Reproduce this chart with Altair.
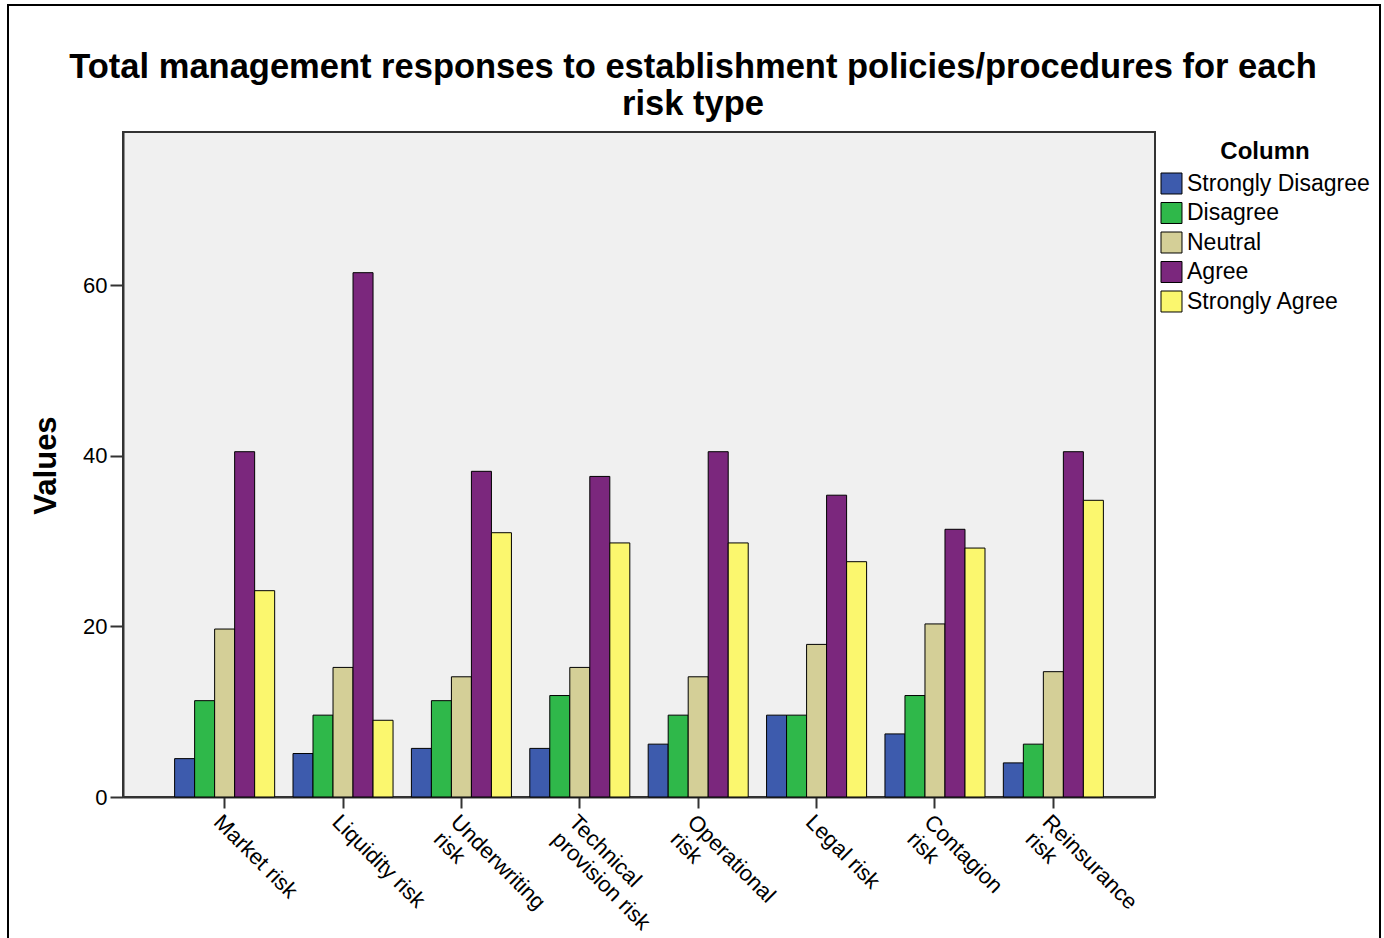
import altair as alt
import pandas as pd

categories = ["Market risk", "Liquidity risk", "Underwriting risk", "Technical provision risk",
              "Operational risk", "Legal risk", "Contagion risk", "Reinsurance risk"]
responses = ["Strongly Disagree", "Disagree", "Neutral", "Agree", "Strongly Agree"]

strongly_disagree = [4.5, 5.1, 5.7, 5.7, 6.2, 9.6, 7.4, 4.0]
disagree = [11.3, 9.6, 11.3, 11.9, 9.6, 9.6, 11.9, 6.2]
neutral = [19.7, 15.2, 14.1, 15.2, 14.1, 17.9, 20.3, 14.7]
agree = [40.5, 61.5, 38.2, 37.6, 40.5, 35.4, 31.4, 40.5]
strongly_agree = [24.2, 9.0, 31.0, 29.8, 29.8, 27.6, 29.2, 34.8]

colors = ["#3D5BAD", "#2FB84A", "#D4CF97", "#7B277D", "#FBF76E"]

label_lines = {
    "Underwriting risk": ["Underwriting", "risk"],
    "Technical provision risk": ["Technical", "provision risk"],
    "Operational risk": ["Operational", "risk"],
    "Contagion risk": ["Contagion", "risk"],
    "Reinsurance risk": ["Reinsurance", "risk"],
}

series = [strongly_disagree, disagree, neutral, agree, strongly_agree]
rows = []
for resp, vals in zip(responses, series):
    for cat, v in zip(categories, vals):
        rows.append({"Category": cat, "Response": resp, "Value": v})
df = pd.DataFrame(rows)

expr = "datum.value"
for k, lines in reversed(list(label_lines.items())):
    arr = "[" + ", ".join("'" + s + "'" for s in lines) + "]"
    expr = f"datum.value == '{k}' ? {arr} : ({expr})"

FONT = "Liberation Sans"

bars = alt.Chart(df).mark_bar(stroke="black", strokeWidth=1).encode(
    x=alt.X("Category:N", sort=categories, title=None,
            scale=alt.Scale(paddingInner=0.155, paddingOuter=0.436),
            axis=alt.Axis(labelAngle=45, labelAlign="left", labelBaseline="top",
                          labelExpr=expr, labelFontSize=22, labelLineHeight=24,
                          labelPadding=3, tickSize=11, labelLimit=400,
                          labelOverlap=False, labelFlush=False)),
    xOffset=alt.XOffset("Response:N", sort=responses,
                        scale=alt.Scale(paddingInner=0, paddingOuter=0)),
    y=alt.Y("Value:Q", title="Values",
            scale=alt.Scale(domain=[0, 78], nice=False, zero=True),
            axis=alt.Axis(values=[0, 20, 40, 60], grid=False, tickSize=13,
                          labelFontSize=22, labelPadding=3,
                          titleFontSize=31, titleFont=FONT, titleFontWeight="bold",
                          titleAngle=-90, titleX=-68, titleY=333,
                          titleAlign="center", titleBaseline="alphabetic")),
    color=alt.Color("Response:N", sort=responses,
                    scale=alt.Scale(domain=responses, range=colors),
                    legend=alt.Legend(orient="none", legendX=1037, legendY=8,
                                      title="Column", titleFont=FONT, titleFontSize=24,
                                      titleFontWeight="bold", titleAnchor="middle",
                                      titleColor="black", titlePadding=8,
                                      labelFont=FONT, labelFontSize=23, labelColor="black",
                                      labelLimit=400, labelOffset=4,
                                      symbolType="square", symbolSize=440,
                                      symbolStrokeColor="black", symbolStrokeWidth=1,
                                      rowPadding=4.5)),
)

frame = alt.Chart(pd.DataFrame({"f": [0]})).mark_rect(
    fillOpacity=0, stroke="black", strokeWidth=2
).encode(x=alt.value(-115), x2=alt.value(1257), y=alt.value(-127), y2=alt.value(830))

chart = alt.layer(frame, bars).properties(
    width=1032, height=665,
    background="white",
    title=alt.TitleParams(
        text=["Total management responses to establishment policies/procedures for each",
              "risk type"],
        font=FONT, fontSize=34.5, fontWeight="bold", color="black",
        anchor="middle", lineHeight=37, dx=54, offset=0, dy=118),
    autosize=alt.AutoSizeParams(type="none"),
    padding={"left": 123, "top": 132, "right": 229, "bottom": 141},
).configure_view(
    fill="#F0F0F0", stroke="#333333", strokeWidth=2
).configure_axis(
    labelFont=FONT, labelColor="black", domainColor="#333333", domainWidth=2,
    tickColor="#333333", tickWidth=2
)

chart.save("out.html", embed_options={"renderer": "svg", "actions": False})
